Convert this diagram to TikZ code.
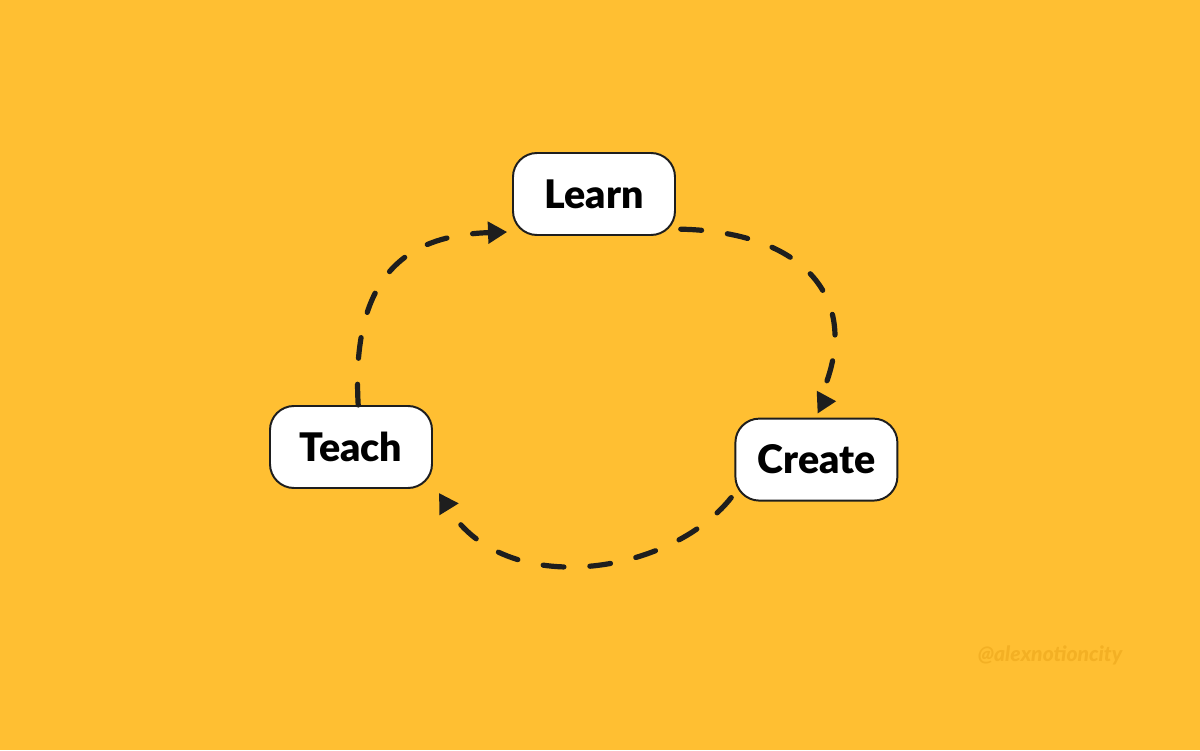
\documentclass[tikz,border=0pt]{standalone}
\usepackage{fontspec}
\setmainfont{Lato}[BoldFont={Lato Black}, BoldItalicFont={Lato Black Italic}]
\usepackage{tikz}
\usetikzlibrary{arrows.meta, positioning, calc}
\definecolor{bgyellow}{RGB}{255, 191, 50}
\definecolor{markyellow}{RGB}{243, 176, 36}
\definecolor{inkdark}{RGB}{30, 30, 30}

\begin{document}
\begin{tikzpicture}[
    stepbox/.style={rectangle, rounded corners=0.6cm, draw=inkdark, line width=1.4pt, fill=white, text=black,
        minimum width=4.05cm, minimum height=2.05cm, inner sep=0pt, font=\fontsize{28}{30}\selectfont\bfseries},
    flow/.style={draw=inkdark, line width=3.7pt, line cap=round, dash pattern=on 0.52cm off 0.65cm,
        -{Triangle[length=0.48cm, width=0.53cm]}}
    ]
        \fill[bgyellow] (0,0) rectangle (30,18.75);
        \useasboundingbox (0,0) rectangle (30,18.75);
        \node[stepbox] (learn) at (14.85,13.9) {Learn};
        \node[stepbox] (teach) at (8.775,7.575) {Teach};
        \node[stepbox] (create) at (20.41,7.26) {Create};
        \coordinate (createtip) at ([shift={(0.5,0.41)}]create.north);
        \draw[flow] ([xshift=0.18cm]teach.north) .. controls (8.75,12.2) and (10.5,12.875) .. ([shift={(-0.12,0.1)}]learn.south west);
        \draw[flow] ([shift={(0.12,0.17)}]learn.south east) .. controls (20.25,12.95) and (21.65,11.125) .. (20.45,8.7) -- (createtip);
        \draw[flow] ([shift={(-0.08,0.1)}]create.south west) .. controls (16.75,4.375) and (12.625,3.75) .. ([shift={(0.15,-0.1)}]teach.south east);
        \node[text=markyellow, font=\fontsize{15}{17}\selectfont\bfseries\itshape] (mark) at (26.25,2.375) {@alexnotioncity};
    \end{tikzpicture}
\end{document}
